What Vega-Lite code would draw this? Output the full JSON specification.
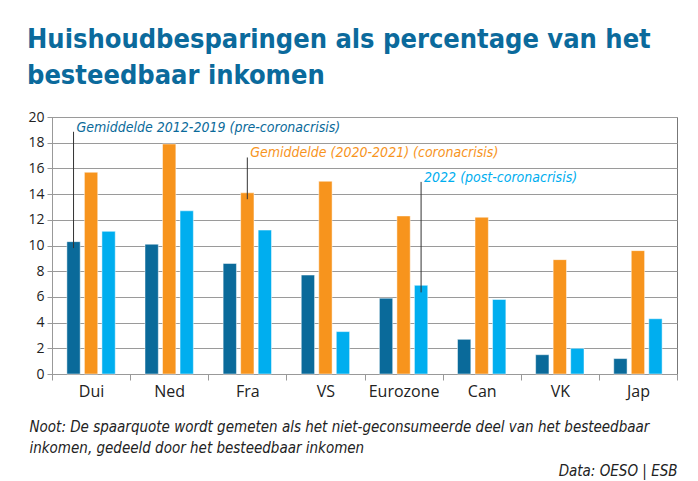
{
  "$schema": "https://vega.github.io/schema/vega-lite/v6.json",
  "width": 625,
  "height": 257,
  "autosize": {"type": "none"},
  "padding": {"left": 52, "top": 117, "right": 21, "bottom": 107},
  "background": "white",
  "title": {
    "text": ["Huishoudbesparingen als percentage van het", "besteedbaar inkomen"],
    "anchor": "start",
    "frame": "group",
    "dx": -25,
    "offset": 20,
    "font": "DejaVu Sans Condensed, Roboto Condensed, Roboto",
    "fontSize": 27,
    "fontWeight": "bold",
    "lineHeight": 36,
    "color": "#0b6a9c"
  },
  "datasets": {
    "bars": [
      {"country": "Dui", "series": "pre", "value": 10.3},
      {"country": "Dui", "series": "corona", "value": 15.7},
      {"country": "Dui", "series": "post", "value": 11.1},
      {"country": "Ned", "series": "pre", "value": 10.1},
      {"country": "Ned", "series": "corona", "value": 17.9},
      {"country": "Ned", "series": "post", "value": 12.7},
      {"country": "Fra", "series": "pre", "value": 8.6},
      {"country": "Fra", "series": "corona", "value": 14.1},
      {"country": "Fra", "series": "post", "value": 11.2},
      {"country": "VS", "series": "pre", "value": 7.7},
      {"country": "VS", "series": "corona", "value": 15.0},
      {"country": "VS", "series": "post", "value": 3.3},
      {"country": "Eurozone", "series": "pre", "value": 5.9},
      {"country": "Eurozone", "series": "corona", "value": 12.3},
      {"country": "Eurozone", "series": "post", "value": 6.9},
      {"country": "Can", "series": "pre", "value": 2.7},
      {"country": "Can", "series": "corona", "value": 12.2},
      {"country": "Can", "series": "post", "value": 5.8},
      {"country": "VK", "series": "pre", "value": 1.5},
      {"country": "VK", "series": "corona", "value": 8.9},
      {"country": "VK", "series": "post", "value": 2.0},
      {"country": "Jap", "series": "pre", "value": 1.2},
      {"country": "Jap", "series": "corona", "value": 9.6},
      {"country": "Jap", "series": "post", "value": 4.3}
    ],
    "annot": [
      {"country": "Dui", "series": "pre", "value": 18.85, "bottom": 9.8, "label": "Gemiddelde 2012-2019 (pre-coronacrisis)"},
      {"country": "Fra", "series": "corona", "value": 16.85, "bottom": 13.6, "label": "Gemiddelde (2020-2021) (coronacrisis)"},
      {"country": "Eurozone", "series": "post", "value": 14.95, "bottom": 6.35, "label": "2022 (post-coronacrisis)"}
    ]
  },
  "encoding": {
    "x": {
      "field": "country",
      "type": "nominal",
      "sort": ["Dui", "Ned", "Fra", "VS", "Eurozone", "Can", "VK", "Jap"],
      "scale": {"paddingInner": 0, "paddingOuter": 0},
      "axis": {
        "title": ["Noot: De spaarquote wordt gemeten als het niet-geconsumeerde deel van het besteedbaar", "inkomen, gedeeld door het besteedbaar inkomen"],
        "titleX": -23,
        "titleY": 57,
        "titleAlign": "left",
        "titleAnchor": null,
        "titleBaseline": "alphabetic",
        "titleFont": "DejaVu Sans Condensed, Roboto Condensed, Roboto",
        "titleFontSize": 15,
        "titleFontStyle": "italic",
        "titleFontWeight": "normal",
        "titleLineHeight": 21,
        "titleColor": "#222222",
        "labelAngle": 0,
        "labelFont": "Open Sans",
        "labelFontSize": 16,
        "labelColor": "#222222",
        "labelPadding": 3,
        "tickBand": "extent",
        "tickSize": 6,
        "tickColor": "#999999",
        "domainColor": "#999999"
      }
    },
    "xOffset": {
      "field": "series",
      "type": "nominal",
      "scale": {"domain": ["pre", "corona", "post"], "paddingInner": 0.24, "paddingOuter": 0.85}
    },
    "y": {
      "field": "value",
      "type": "quantitative",
      "scale": {"domain": [0, 20], "nice": false},
      "axis": {
        "values": [0, 2, 4, 6, 8, 10, 12, 14, 16, 18, 20],
        "labelOverlap": false,
        "labelFlush": false,
        "title": "Data: OESO | ESB",
        "titleAngle": 0,
        "titleX": 625,
        "titleY": 358,
        "titleAlign": "right",
        "titleAnchor": null,
        "titleBaseline": "alphabetic",
        "titleFont": "DejaVu Sans Condensed, Roboto Condensed, Roboto",
        "titleFontSize": 15,
        "titleFontStyle": "italic",
        "titleFontWeight": "normal",
        "titleColor": "#222222",
        "labelFont": "Open Sans",
        "labelFontSize": 14,
        "labelColor": "#222222",
        "labelPadding": 3,
        "tickSize": 5,
        "tickColor": "#999999",
        "domainColor": "#999999",
        "gridColor": "#9a9a9a",
        "gridWidth": 1
      }
    },
    "color": {
      "field": "series",
      "type": "nominal",
      "scale": {"domain": ["pre", "corona", "post"], "range": ["#0a6a9a", "#f7941d", "#00aeef"]},
      "legend": null
    }
  },
  "layer": [
    {
      "data": {"name": "bars"},
      "mark": {"type": "bar", "stroke": "white", "strokeWidth": 0.8, "strokeOpacity": 0.6}
    },
    {
      "data": {"name": "annot"},
      "mark": {"type": "rule", "color": "#333333", "strokeWidth": 1},
      "encoding": {
        "y2": {"field": "bottom"},
        "color": {"value": "#333333"}
      }
    },
    {
      "data": {"name": "annot"},
      "mark": {"type": "text", "align": "left", "baseline": "alphabetic", "dx": 3, "font": "DejaVu Sans Condensed, Roboto Condensed, Roboto", "fontSize": 14, "fontStyle": "italic"},
      "encoding": {
        "text": {"field": "label"}
      }
    }
  ],
  "config": {
    "view": {"stroke": "#777777", "strokeWidth": 1},
    "font": "Open Sans"
  }
}
